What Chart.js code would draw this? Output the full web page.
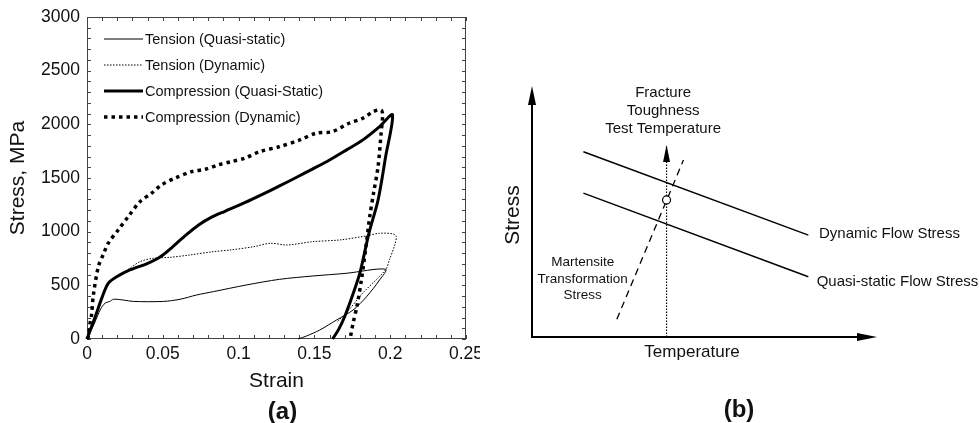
<!DOCTYPE html>
<html>
<head>
<meta charset="utf-8">
<script src="https://cdn.jsdelivr.net/npm/chart.js@4/dist/chart.umd.min.js"></script>
<style>
  body { margin: 0; background: #fff; }
  #wrap { position: relative; width: 979px; height: 423px; overflow: hidden; }
  canvas { position: absolute; top: 0; }
  #chartA { left: 0; }
  #chartB { left: 480px; }
</style>
</head>
<body>
<div id="wrap">
  <canvas id="chartA" width="480" height="423"></canvas>
  <canvas id="chartB" width="499" height="423"></canvas>
</div>
<script>
const FONT = "'Liberation Sans', Arial, sans-serif";
const INK = "#111";

//Panel (a) data
const strainTensionQS = [0, 0.005, 0.009, 0.012, 0.015, 0.0174, 0.024, 0.0305, 0.0503, 0.0613, 0.0723, 0.0833, 0.105, 0.127, 0.149, 0.171, 0.197, 0.193, 0.1844, 0.1755, 0.1646, 0.1536, 0.1448, 0.1393];
const stressTensionQS = [0, 150, 280, 335, 350, 370, 363, 350, 350, 370, 410, 441, 503, 556, 587, 612, 650, 550, 394, 270, 177, 84, 28, 0];

const strainTensionDyn = [0, 0.005, 0.010, 0.014, 0.0217, 0.0283, 0.035, 0.0437, 0.0547, 0.068, 0.0833, 0.0943, 0.110, 0.121, 0.132, 0.149, 0.167, 0.184, 0.193, 0.202, 0.204, 0.203, 0.1995, 0.197, 0.182, 0.171, 0.165];
const stressTensionDyn = [0, 200, 400, 519, 596, 659, 721, 752, 761, 783, 814, 829, 860, 892, 876, 907, 923, 960, 985, 979, 953, 876, 739, 646, 429, 242, 160];

const strainCompQS = [0, 0.005, 0.010, 0.014, 0.0196, 0.0283, 0.0393, 0.046, 0.0503, 0.0558, 0.0646, 0.0734, 0.0822, 0.091, 0.104, 0.116, 0.127, 0.138, 0.149, 0.160, 0.171, 0.182, 0.193, 0.2015, 0.197, 0.192, 0.186, 0.180, 0.175, 0.170, 0.166, 0.162];
const stressCompQS = [0, 190, 390, 519, 580, 643, 700, 745, 785, 850, 960, 1060, 1135, 1190, 1270, 1350, 1426, 1505, 1585, 1668, 1760, 1855, 1979, 2088, 1700, 1295, 987, 615, 400, 210, 90, 0];

const strainCompDyn = [0, 0.0009, 0.002, 0.003, 0.0042, 0.0075, 0.0108, 0.014, 0.0206, 0.0272, 0.035, 0.0426, 0.049, 0.058, 0.069, 0.078, 0.0866, 0.0954, 0.104, 0.114, 0.127, 0.1404, 0.151, 0.1618, 0.1728, 0.182, 0.189, 0.194, 0.195, 0.194, 0.192, 0.189, 0.1865, 0.184, 0.181, 0.178, 0.1755, 0.1738];
const stressCompDyn = [0, 21, 146, 224, 410, 674, 790, 892, 1016, 1140, 1280, 1358, 1435, 1498, 1559, 1581, 1622, 1653, 1684, 1746, 1792, 1855, 1917, 1932, 2010, 2057, 2120, 2134, 2088, 1917, 1606, 1358, 1140, 860, 550, 301, 146, 21];

const seriesNames = ["Tension (Quasi-static)", "Tension (Dynamic)", "Compression (Quasi-Static)", "Compression (Dynamic)"];
const strainTicks = [0, 0.05, 0.1, 0.15, 0.2, 0.25];
const stressTicks = [0, 500, 1000, 1500, 2000, 2500, 3000];

function pts(xs, ys) {
  return xs.map((x, i) => ({ x: x, y: ys[i] }));
}

//Frame, inward ticks, legend and panel letter for (a)
const panelA = {
  id: "panelA",
  beforeDatasetsDraw(chart) {
    const { ctx, chartArea: a, scales } = chart;
    ctx.save();
    ctx.strokeStyle = "#444";
    ctx.lineWidth = 1;
    ctx.strokeRect(a.left + 0.5, a.top + 0.5, a.right - a.left - 1, a.bottom - a.top - 1);
    ctx.beginPath();
    for (let v = 0; v <= 0.2501; v += 0.01) {
      const x = Math.round(scales.x.getPixelForValue(v)) + 0.5;
      ctx.moveTo(x, a.bottom); ctx.lineTo(x, a.bottom - 4);
      ctx.moveTo(x, a.top); ctx.lineTo(x, a.top + 4);
    }
    for (let v = 0; v <= 3000; v += 100) {
      const y = Math.round(scales.y.getPixelForValue(v)) + 0.5;
      ctx.moveTo(a.left, y); ctx.lineTo(a.left + 4, y);
      ctx.moveTo(a.right, y); ctx.lineTo(a.right - 4, y);
    }
    ctx.stroke();
    ctx.restore();
  },
  afterDraw(chart) {
    const { ctx, chartArea: a } = chart;
    ctx.save();
    chart.data.datasets.forEach((ds, i) => {
      const y = a.top + 22 + i * 26;
      ctx.strokeStyle = ds.borderColor;
      ctx.lineWidth = ds.borderWidth;
      ctx.setLineDash(ds.borderDash || []);
      ctx.beginPath();
      ctx.moveTo(a.left + 17, y);
      ctx.lineTo(a.left + 56, y);
      ctx.stroke();
      ctx.setLineDash([]);
      ctx.fillStyle = INK;
      ctx.font = "14.5px " + FONT;
      ctx.textBaseline = "middle";
      ctx.textAlign = "left";
      ctx.fillText(ds.label, a.left + 58, y + 1);
    });
    ctx.font = "bold 24px " + FONT;
    ctx.textAlign = "center";
    ctx.fillText("(a)", (a.left + a.right) / 2 + 6, 412);
    ctx.restore();
  },
};

function lineSet(label, data, width, dash) {
  return {
    label: label,
    data: data,
    showLine: true,
    borderColor: "#000",
    borderWidth: width,
    borderDash: dash,
    pointRadius: 0,
    tension: 0.3,
    fill: false,
    clip: 4,
  };
}

const chartA = new Chart(document.getElementById("chartA"), {
  type: "scatter",
  data: {
    datasets: [
      lineSet(seriesNames[0], pts(strainTensionQS, stressTensionQS), 1, []),
      lineSet(seriesNames[1], pts(strainTensionDyn, stressTensionDyn), 1, [1.5, 1.5]),
      lineSet(seriesNames[2], pts(strainCompQS, stressCompQS), 3, []),
      lineSet(seriesNames[3], pts(strainCompDyn, stressCompDyn), 3.5, [3.5, 4]),
    ],
  },
  options: {
    responsive: false,
    animation: false,
    events: [],
    layout: { padding: { left: 0, top: 17, right: 14, bottom: 0 } },
    plugins: { legend: { display: false }, tooltip: { enabled: false } },
    scales: {
      x: {
        type: "linear",
        min: 0,
        max: 0.25,
        afterBuildTicks: (s) => { s.ticks = strainTicks.map((v) => ({ value: v })); },
        afterFit: (s) => { s.height = 84; s.paddingLeft = 0; s.paddingRight = 0; },
        grid: { display: false, drawTicks: false },
        border: { display: false },
        ticks: {
          padding: 5,
          color: INK,
          font: { family: FONT, size: 17.5 },
          callback: (v) => String(+v.toFixed(2)),
        },
        title: { display: true, text: "Strain", color: INK, font: { family: FONT, size: 21 }, padding: { top: 0, bottom: 29 } },
      },
      y: {
        type: "linear",
        min: 0,
        max: 3000,
        afterBuildTicks: (s) => { s.ticks = stressTicks.map((v) => ({ value: v })); },
        afterFit: (s) => { s.width = 87; s.paddingTop = 0; s.paddingBottom = 0; },
        grid: { display: false, drawTicks: false },
        border: { display: false },
        ticks: {
          padding: 7,
          color: INK,
          font: { family: FONT, size: 17.5 },
          callback: (v) => String(v),
        },
        title: { display: true, text: "Stress, MPa", color: INK, font: { family: FONT, size: 21 }, padding: { top: 6, bottom: 0 } },
      },
    },
  },
  plugins: [panelA],
});

//Panel (b): schematic, temperature and stress in arbitrary units 0..10
const tempDynamic = [1.49, 8.01];
const stressDynamic = [7.38, 4.06];
const tempQuasi = [1.49, 8.01];
const stressQuasi = [5.73, 2.40];
const tempMartensite = [2.46, 4.39];
const stressMartensite = [0.71, 7.05];
const tempTest = [3.9, 3.9];
const stressTest = [0, 7.65];
const tempCross = [3.9];
const stressCross = [5.46];

function arrowHead(ctx, tipX, tipY, dirX, dirY, len, half) {
  const px = -dirY, py = dirX;
  ctx.beginPath();
  ctx.moveTo(tipX, tipY);
  ctx.lineTo(tipX - dirX * len + px * half, tipY - dirY * len + py * half);
  ctx.lineTo(tipX - dirX * len - px * half, tipY - dirY * len - py * half);
  ctx.closePath();
  ctx.fill();
}

const panelB = {
  id: "panelB",
  afterDraw(chart) {
    const { ctx, chartArea: a, scales } = chart;
    const X = (v) => scales.x.getPixelForValue(v);
    const Y = (v) => scales.y.getPixelForValue(v);
    ctx.save();
    ctx.strokeStyle = "#000";
    ctx.fillStyle = "#000";
    ctx.lineWidth = 2;
    ctx.beginPath();
    ctx.moveTo(a.left, a.top + 10);
    ctx.lineTo(a.left, a.bottom);
    ctx.lineTo(a.right - 10, a.bottom);
    ctx.stroke();
    arrowHead(ctx, a.left, a.top, 0, -1, 19, 4);
    arrowHead(ctx, a.right, a.bottom, 1, 0, 20, 4);
    //arrow on the test temperature line
    arrowHead(ctx, X(tempTest[1]), Y(stressTest[1]), 0, -1, 17, 3.5);

    ctx.fillStyle = INK;
    ctx.textBaseline = "middle";
    ctx.textAlign = "center";
    ctx.font = "15px " + FONT;
    ["Fracture", "Toughness", "Test Temperature"].forEach((t, i) => {
      ctx.fillText(t, X(3.8), a.top + 7 + i * 18);
    });
    ctx.font = "13.5px " + FONT;
    ["Martensite", "Transformation", "Stress"].forEach((t, i) => {
      ctx.fillText(t, X(1.47), Y(2.96) + i * 16.5);
    });
    ctx.font = "17px " + FONT;
    ctx.fillText("Temperature", X(4.64), a.bottom + 15);
    ctx.font = "bold 24px " + FONT;
    ctx.fillText("(b)", X(6.0), 410);
    ctx.textAlign = "left";
    ctx.font = "15px " + FONT;
    ctx.fillText("Dynamic Flow Stress", X(8.32), Y(4.1));
    ctx.fillText("Quasi-static Flow Stress", X(8.25), Y(2.2));
    ctx.save();
    ctx.translate(a.left - 19, Y(4.86));
    ctx.rotate(-Math.PI / 2);
    ctx.textAlign = "center";
    ctx.font = "21px " + FONT;
    ctx.fillText("Stress", 0, 0);
    ctx.restore();
    ctx.restore();
  },
};

function schemeLine(data, width, dash) {
  return {
    data: data,
    showLine: true,
    borderColor: "#000",
    borderWidth: width,
    borderDash: dash,
    pointRadius: 0,
    tension: 0,
    clip: false,
  };
}

const chartB = new Chart(document.getElementById("chartB"), {
  type: "scatter",
  data: {
    datasets: [
      {
        data: pts(tempCross, stressCross),
        pointRadius: 4,
        pointBorderWidth: 1.2,
        pointBorderColor: "#000",
        pointBackgroundColor: "#fff",
        clip: false,
      },
      schemeLine(pts(tempDynamic, stressDynamic), 1.4, []),
      schemeLine(pts(tempQuasi, stressQuasi), 1.4, []),
      schemeLine(pts(tempMartensite, stressMartensite), 1.3, [7, 5]),
      schemeLine(pts(tempTest, stressTest), 1.2, [1.5, 1.5]),
    ],
  },
  options: {
    responsive: false,
    animation: false,
    events: [],
    layout: { padding: { left: 52, right: 102, top: 86, bottom: 86 } },
    plugins: { legend: { display: false }, tooltip: { enabled: false } },
    scales: {
      x: { type: "linear", min: 0, max: 10, display: false },
      y: { type: "linear", min: 0, max: 10, display: false },
    },
  },
  plugins: [panelB],
});
</script>
</body>
</html>
